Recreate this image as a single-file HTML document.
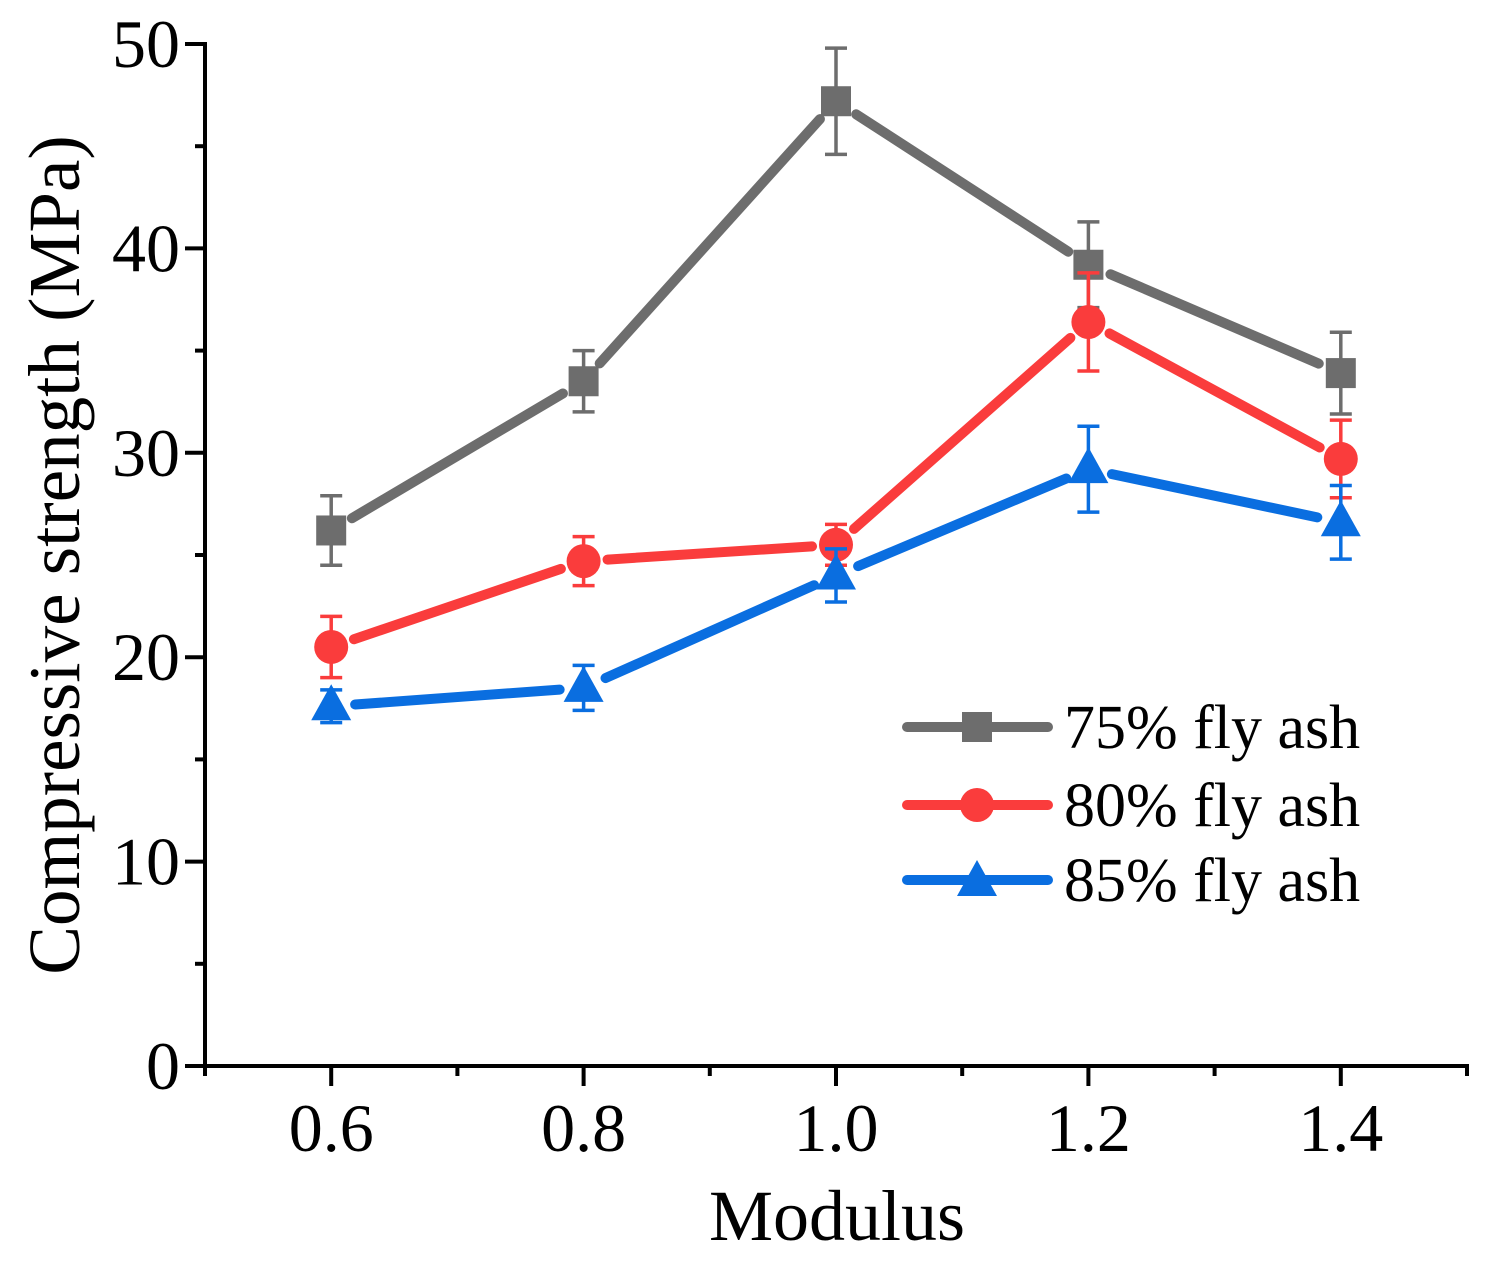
<!DOCTYPE html>
<html><head><meta charset="utf-8"><style>body{margin:0;background:#fff}svg{display:block}text{font-family:"Liberation Serif",serif;fill:#000}</style></head>
<body>
<svg id="chart" width="1495" height="1262" viewBox="0 0 1495 1262" xmlns="http://www.w3.org/2000/svg">
<g id="axes"></g>
<g id="plot"></g>
<g id="legend"></g>
<text x="62" y="555" font-size="73" text-anchor="middle" transform="rotate(-90 62 555)" dominant-baseline="middle">Compressive strength (MPa)</text>
<text x="837" y="1240" font-size="72" text-anchor="middle">Modulus</text>
</svg>
<script>
const categories=[0.6,0.8,1.0,1.2,1.4];
const seriesNames=["75% fly ash","80% fly ash","85% fly ash"];
const s75=[26.2,33.5,47.2,39.2,33.9];
const e75=[1.7,1.5,2.6,2.1,2.0];
const s80=[20.5,24.7,25.5,36.4,29.7];
const e80=[1.5,1.2,1.0,2.4,1.9];
const s85=[17.6,18.5,24.0,29.2,26.6];
const e85=[0.8,1.1,1.3,2.1,1.8];
const yTicks=[0,10,20,30,40,50];
const xTickLabels=["0.6","0.8","1.0","1.2","1.4"];
const NS="http://www.w3.org/2000/svg";
const X=v=>205+(v-0.5)*1262;
const Y=v=>1066-v*20.44;
function mk(tag,attrs,parent){const e=document.createElementNS(NS,tag);for(const k in attrs)e.setAttribute(k,attrs[k]);parent.appendChild(e);return e;}
const axes=document.getElementById('axes'),plot=document.getElementById('plot'),legend=document.getElementById('legend');
let a=mk('line',{x1:205,y1:42,x2:205,y2:1068,stroke:'#000','stroke-width':4},axes);

a=mk('line',{x1:203,y1:1066,x2:1469,y2:1066,stroke:'#000','stroke-width':4},axes);

for(let v=0;v<=50;v+=5){const maj=v%10===0;const t=mk('line',{x1:205,x2:205-(maj?20:10),y1:Y(v),y2:Y(v),stroke:'#000','stroke-width':4},axes);
}
yTicks.forEach(v=>{const t=mk('text',{x:180,y:Y(v)+23,'font-size':68,'text-anchor':'end'},axes);t.textContent=v;
});
for(let i=0;i<=10;i++){const v=0.5+i*0.1;const maj=i%2===1;const t=mk('line',{x1:X(v),x2:X(v),y1:1066,y2:1066+(maj?20:10),stroke:'#000','stroke-width':4},axes);
}
categories.forEach((c,i)=>{const t=mk('text',{x:X(c),y:1151,'font-size':68,'text-anchor':'middle'},axes);t.textContent=xTickLabels[i];
});
const colors=['#6d6d6d','#fa3c3c','#0a6ee0'];
const shapes=['square','circle','triangle'];
function marker(shape,cx,cy,col,parent){let m;
if(shape==='square')m=mk('rect',{x:cx-15,y:cy-15,width:30,height:30,fill:col},parent);
else if(shape==='circle')m=mk('circle',{cx:cx,cy:cy,r:17,fill:col},parent);
else m=mk('polygon',{points:`${cx},${cy-22} ${cx+20},${cy+14} ${cx-20},${cy+14}`,fill:col},parent);
return m;}
[[s75,e75],[s80,e80],[s85,e85]].forEach(([vals,errs],si)=>{
const col=colors[si];const g=mk('g',{},plot);

for(let i=0;i<vals.length-1;i++){const x1=X(categories[i]),y1=Y(vals[i]),x2=X(categories[i+1]),y2=Y(vals[i+1]);
const dx=x2-x1,dy=y2-y1,L=Math.hypot(dx,dy),ux=dx/L,uy=dy/L,gap=24;
const l=mk('line',{x1:x1+ux*gap,y1:y1+uy*gap,x2:x2-ux*gap,y2:y2-uy*gap,stroke:col,'stroke-width':10,'stroke-linecap':'round'},g);
}
vals.forEach((v,i)=>{const cx=X(categories[i]);const top=Y(v+errs[i]),bot=Y(v-errs[i]);
const eb=mk('path',{d:`M${cx},${top}V${bot}M${cx-11},${top}H${cx+11}M${cx-11},${bot}H${cx+11}`,stroke:col,'stroke-width':3.5,fill:'none'},g);

const m=marker(shapes[si],cx,Y(v),col,g);
});
});
[727,805,880].forEach((ly,si)=>{const g=mk('g',{},legend);

mk('line',{x1:907,y1:ly,x2:1048,y2:ly,stroke:colors[si],'stroke-width':10,'stroke-linecap':'round'},g);
marker(shapes[si],977,ly+(si===2?2:0),colors[si],g);
const t=mk('text',{x:1064,y:ly+21,'font-size':62},g);t.textContent=seriesNames[si];});
</script>
</body></html>
